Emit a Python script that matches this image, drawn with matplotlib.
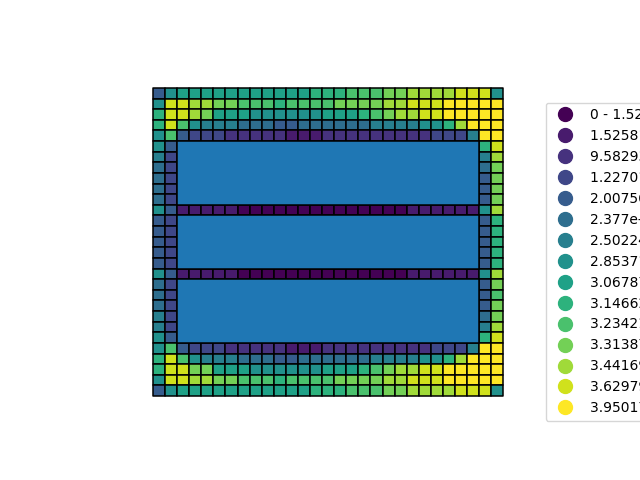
import matplotlib
matplotlib.use("Agg")
import matplotlib.pyplot as plt
from matplotlib.patches import Rectangle
from matplotlib.collections import PatchCollection
from matplotlib.lines import Line2D

# ---- data: class index (0..14) of every grid cell, top row first; -1 = covered by blue block
top_rows = [
    [4, 7, 8, 8, 8, 8, 8, 8, 8, 8, 8, 8, 8, 9, 9, 9, 10, 10, 10, 11, 11, 12, 12, 12, 12, 13, 13, 13, 7],
    [7, 13, 13, 12, 12, 11, 11, 10, 10, 10, 9, 10, 10, 10, 10, 11, 11, 11, 11, 12, 12, 13, 13, 13, 14, 14, 14, 14, 14],
    [9, 13, 13, 12, 11, 8, 8, 8, 7, 7, 7, 7, 7, 7, 8, 8, 8, 9, 10, 11, 12, 12, 13, 13, 14, 14, 14, 14, 14],
    [9, 13, 10, 7, 6, 6, 6, 5, 5, 5, 4, 4, 5, 5, 5, 5, 5, 5, 6, 6, 6, 6, 7, 7, 9, 12, 14, 14, 14],
    [7, 10, 4, 3, 3, 3, 2, 2, 2, 2, 2, 1, 1, 1, 2, 2, 2, 2, 2, 2, 2, 2, 2, 3, 3, 3, 6, 14, 14],
]
bottom_rows = [
    [7, 10, 4, 3, 3, 3, 2, 2, 2, 2, 2, 1, 1, 1, 2, 2, 2, 2, 2, 2, 2, 2, 2, 3, 3, 3, 6, 14, 14],
    [9, 13, 10, 7, 6, 6, 6, 5, 5, 5, 4, 4, 5, 5, 5, 5, 5, 5, 6, 6, 6, 6, 7, 7, 9, 12, 14, 14, 14],
    [9, 13, 13, 11, 11, 8, 8, 8, 7, 7, 7, 7, 7, 7, 8, 8, 8, 9, 10, 11, 12, 12, 13, 13, 14, 14, 14, 14, 14],
    [7, 13, 13, 12, 12, 11, 11, 10, 10, 10, 9, 10, 10, 10, 10, 11, 11, 11, 11, 12, 12, 13, 13, 13, 14, 14, 14, 14, 14],
    [4, 7, 8, 8, 8, 8, 8, 8, 8, 8, 8, 8, 8, 9, 9, 9, 10, 10, 10, 11, 11, 12, 12, 12, 12, 13, 13, 13, 7],
]
# side columns for rows 5..23
col0 = [7, 6, 5, 5, 5, 5, 7, 4, 4, 4, 4, 4, 7, 5, 5, 5, 6, 6, 7]
col1 = [4, 3, 3, 3, 3, 3, 4, 3, 3, 3, 3, 3, 4, 3, 3, 3, 3, 3, 4]
col27 = [9, 6, 5, 4, 4, 4, 7, 4, 4, 4, 4, 4, 7, 4, 4, 4, 5, 6, 9]
col28 = [13, 12, 11, 11, 11, 11, 12, 9, 9, 9, 9, 9, 12, 11, 10, 11, 11, 12, 13]
# divider rows (rows 11 and 17), columns 2..26
divider = [1, 1, 1, 1, 1, 0, 0, 0, 0, 0, 0, 0, 0, 0, 0, 0, 0, 0, 0, 1, 1, 1, 1, 1, 1]
divider_rows = [11, 17]
# blue blocks: (first row, last row), columns 2..26
blocks = [(5, 10), (12, 16), (18, 23)]
block_cols = (2, 26)

# legend class edges
edges = ["0", "1.52581e-06", "9.58293e-06", "1.22701e-05", "2.00756e-05", "2.377e-05",
         "2.50224e-05", "2.85371e-05", "3.06787e-05", "3.14662e-05", "3.23421e-05",
         "3.31387e-05", "3.44169e-05", "3.62979e-05", "3.95017e-05", "4.51826e-05"]

# ---- assemble grid
n = 29
grid = [r[:] for r in top_rows]
for i in range(19):
    r = 5 + i
    if r in divider_rows:
        row = [col0[i], col1[i]] + divider + [col27[i], col28[i]]
    else:
        row = [col0[i], col1[i]] + [-1] * 25 + [col27[i], col28[i]]
    grid.append(row)
grid += [r[:] for r in bottom_rows]

cmap = plt.get_cmap("viridis")
ncls = len(edges) - 1
colors = [cmap(k / (ncls - 1)) for k in range(ncls)]

fig = plt.figure(figsize=(6.4, 4.8), dpi=100)
ax = fig.add_axes([153 / 640, (480 - 396) / 480, 350.3 / 640, 308 / 480])

patches, fcs = [], []
for r, row in enumerate(grid):
    for c, k in enumerate(row):
        if k < 0:
            continue
        patches.append(Rectangle((c, n - 1 - r), 1, 1))
        fcs.append(colors[k])
pc = PatchCollection(patches, facecolors=fcs, edgecolors="black", linewidths=1.1)
pc.set_clip_on(False)
ax.add_collection(pc)

bpatches = []
for r0, r1 in blocks:
    c0, c1 = block_cols
    bpatches.append(Rectangle((c0, n - 1 - r1), c1 - c0 + 1, r1 - r0 + 1))
bc = PatchCollection(bpatches, facecolors="#1f77b4", edgecolors="black", linewidths=1.1)
bc.set_clip_on(False)
ax.add_collection(bc)

ax.set_xlim(0, n)
ax.set_ylim(0, n)
ax.set_axis_off()

handles = [Line2D([], [], marker="o", linestyle="none", markersize=10, color=colors[k])
           for k in range(ncls)]
labels = [f"{edges[k]} - {edges[k + 1]}" for k in range(ncls)]
fig.legend(handles, labels, loc="upper left", bbox_to_anchor=(545.7 / 640, 1 - 102.5 / 480),
           borderaxespad=0)

fig.savefig("out.png", dpi=100)
